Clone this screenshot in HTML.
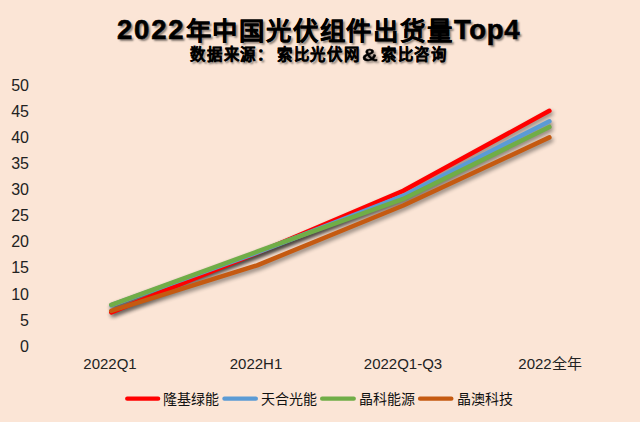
<!DOCTYPE html>
<html lang="zh-CN"><head><meta charset="utf-8">
<style>
html,body{margin:0;padding:0;}
body{width:640px;height:422px;background:#FBE5D6;position:relative;overflow:hidden;font-family:"Liberation Sans",sans-serif;}
.t{position:absolute;white-space:nowrap;line-height:1;}
.ti{font-weight:bold;color:#000;-webkit-text-stroke:0.6px #000;text-shadow:2px 2px 2px rgba(0,0,0,0.45);}
.su{font-weight:bold;color:#000;-webkit-text-stroke:0.3px #000;text-shadow:1.5px 1.5px 2px rgba(0,0,0,0.45);}
.yl{position:absolute;right:611px;font-size:16px;color:#222;line-height:1;}
.xl{position:absolute;width:140px;text-align:center;font-size:15px;color:#222;line-height:1;top:355.5px;}
.lg{position:absolute;top:392px;font-size:14px;color:#111;line-height:1;}
svg{position:absolute;left:0;top:0;}
</style></head><body>
<div class="t ti" style="left:117px;top:16.3px;font-size:27.5px;letter-spacing:1.8px">2022</div>
<div class="t ti" style="left:185.6px;top:19px;font-size:25.4px;letter-spacing:1.8px;-webkit-text-stroke:0.25px #000">年中国光伏组件出货量</div>
<div class="t ti" style="left:454px;top:16px;font-size:27.5px;letter-spacing:0.6px">Top4</div>
<div class="t su" style="left:190.3px;top:47.2px;font-size:15.4px;letter-spacing:1.7px">数据来源：</div>
<div class="t su" style="left:277px;top:47.2px;font-size:15.4px;letter-spacing:1.7px">索比光伏网</div>
<div class="t su" style="left:362.3px;top:47.6px;font-size:16px;transform:scaleX(1.36);transform-origin:0 0">&amp;</div>
<div class="t su" style="left:381px;top:47.2px;font-size:15.4px;letter-spacing:1.6px">索比咨询</div>

<div class="yl" style="top:78px">50</div>
<div class="yl" style="top:104px">45</div>
<div class="yl" style="top:130px">40</div>
<div class="yl" style="top:156px">35</div>
<div class="yl" style="top:182px">30</div>
<div class="yl" style="top:208px">25</div>
<div class="yl" style="top:234px">20</div>
<div class="yl" style="top:260px">15</div>
<div class="yl" style="top:287px">10</div>
<div class="yl" style="top:313px">5</div>
<div class="yl" style="top:339px">0</div>

<div class="xl" style="left:40px">2022Q1</div>
<div class="xl" style="left:186px">2022H1</div>
<div class="xl" style="left:333px">2022Q1-Q3</div>
<div class="xl" style="left:480px">2022全年</div>

<svg width="640" height="422" viewBox="0 0 640 422">
<defs>
<filter id="bl" x="-10%" y="-10%" width="130%" height="130%"><feGaussianBlur stdDeviation="2.2"/></filter>
</defs>
<!--LINES-->
<g fill="none" stroke="#000" stroke-width="4.5" stroke-linecap="round" stroke-linejoin="round" transform="translate(1.6,2.5)">
<path d="M111.30,312.52 L257.07,252.98 L403.23,190.78 L549.40,110.79" opacity="0.45" filter="url(#bl)"/>
<path d="M111.30,305.16 L257.07,252.72 L403.23,195.95 L549.40,121.23" opacity="0.45" filter="url(#bl)"/>
<path d="M111.30,304.80 L257.07,251.68 L403.23,198.97 L549.40,126.97" opacity="0.45" filter="url(#bl)"/>
<path d="M111.30,310.85 L257.07,265.35 L403.23,205.50 L549.40,137.40" opacity="0.45" filter="url(#bl)"/>
</g>
<g fill="none" stroke-width="4.5" stroke-linecap="round" stroke-linejoin="round">
<path d="M111.30,312.52 L257.07,252.98 L403.23,190.78 L549.40,110.79" stroke="#FF0000"/>
<path d="M111.30,305.16 L257.07,252.72 L403.23,195.95 L549.40,121.23" stroke="#5B9BD5"/>
<path d="M111.30,304.80 L257.07,251.68 L403.23,198.97 L549.40,126.97" stroke="#70AD47"/>
<path d="M111.30,310.85 L257.07,265.35 L403.23,205.50 L549.40,137.40" stroke="#C55A11"/>
</g>
<!--/LINES-->
<g fill="none" stroke-width="4.2" stroke-linecap="round">
<path d="M127.2,398.7 L158.2,398.7" stroke="#FF0000"/>
<path d="M224.4,398.7 L255.9,398.7" stroke="#5B9BD5"/>
<path d="M322.1,398.7 L353.8,398.7" stroke="#70AD47"/>
<path d="M420,398.7 L451.4,398.7" stroke="#C55A11"/>
</g>
</svg>

<div class="lg" style="left:163px">隆基绿能</div>
<div class="lg" style="left:261px">天合光能</div>
<div class="lg" style="left:359px">晶科能源</div>
<div class="lg" style="left:457px">晶澳科技</div>
</body></html>
